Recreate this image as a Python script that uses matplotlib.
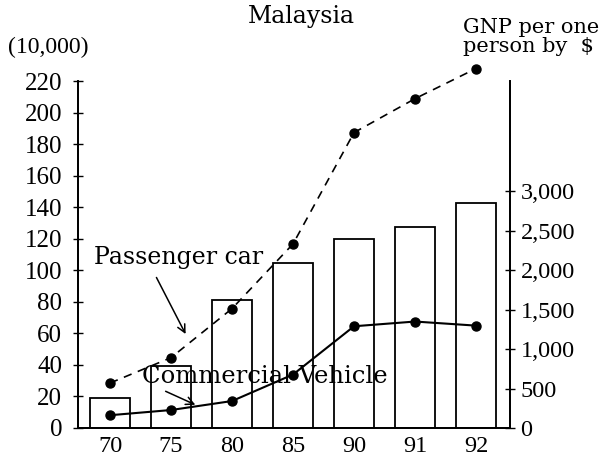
import matplotlib
matplotlib.use('Agg')
import matplotlib.pyplot as plt

# datos
anos = ['70', '75', '80', '85', '90', '91', '92']
carro_passeio = [28.5, 44.6, 75.7, 116.7, 187.3, 208.8, 227.9]   # (10,000)
veiculo_comercial = [8.1, 11.4, 17.1, 33.9, 64.5, 67.5, 64.9]    # (10,000)
pnb_per_capita = [386, 784, 1620, 2096, 2396, 2550, 2858]        # US$

ticks_esq = list(range(0, 221, 20))
ticks_dir = list(range(0, 3001, 500))

fonte_num = 'Liberation Serif'
fonte_txt = 'DejaVu Serif'

fig = plt.figure(figsize=(6.09, 4.63), dpi=100)
ax = fig.add_axes([78 / 609, 1 - 428 / 463, 432 / 609, (428 - 81) / 463])
ax2 = ax.twinx()

x = list(range(len(anos)))

# barras no eixo direito (PNB)
ax2.bar(x, pnb_per_capita, width=0.67, color='white', edgecolor='black', linewidth=1.3)
ax2.set_ylim(0, 220 * 20)
ax2.set_yticks(ticks_dir)
ax2.set_yticklabels([f'{v:,}' for v in ticks_dir], fontfamily=fonte_num, fontsize=17.5)
ax2.tick_params(axis='y', direction='inout', length=7, width=1, pad=4)

# linhas no eixo esquerdo, por cima das barras
ax.set_zorder(ax2.get_zorder() + 1)
ax.patch.set_visible(False)
ax.plot(x, carro_passeio, color='black', linestyle=(0, (5, 4)), linewidth=1.2,
        marker='o', markersize=6.5, clip_on=False)
ax.plot(x, veiculo_comercial, color='black', linestyle='-', linewidth=1.5,
        marker='o', markersize=6.5, clip_on=False)

ax.set_xlim(-0.525, 6.557)
ax.set_ylim(0, 220)
ax.set_yticks(ticks_esq)
ax.set_yticklabels([str(v) for v in ticks_esq], fontfamily=fonte_num, fontsize=18)
ax.set_xticks(x)
ax.set_xticklabels(anos, fontfamily=fonte_num, fontsize=17.5)
ax.tick_params(axis='y', direction='inout', length=7, width=1, pad=8)
ax.tick_params(axis='x', length=0, pad=6)

for a in (ax, ax2):
    a.spines['top'].set_visible(False)
    for s in ('left', 'right', 'bottom'):
        a.spines[s].set_linewidth(1.3)

# textos
fig.text(301 / 609, 1 - 17 / 463, 'Malaysia', ha='center', va='center',
         fontfamily=fonte_txt, fontsize=17)
fig.text(8 / 609, 1 - 47 / 463, '(10,000)', ha='left', va='center',
         fontfamily=fonte_num, fontsize=17)
fig.text(463 / 609, 1 - 37 / 463, 'GNP per one\nperson by  $', ha='left', va='center',
         fontfamily=fonte_txt, fontsize=15, linespacing=0.95)

ax.annotate('Passenger car', xy=(1.26, 58), xytext=(1.13, 108),
            ha='center', va='center', fontfamily=fonte_txt, fontsize=17)
ax.annotate('', xy=(1.26, 58), xytext=(0.74, 97),
            arrowprops=dict(arrowstyle='->', color='black', lw=1.1, mutation_scale=14))

ax.annotate('Commercial Vehicle', xy=(1.44, 14), xytext=(2.53, 32.4),
            ha='center', va='center', fontfamily=fonte_txt, fontsize=17.5)
ax.annotate('', xy=(1.44, 14), xytext=(0.87, 24),
            arrowprops=dict(arrowstyle='->', color='black', lw=1.1, mutation_scale=14))

fig.savefig('out.png', dpi=100)
